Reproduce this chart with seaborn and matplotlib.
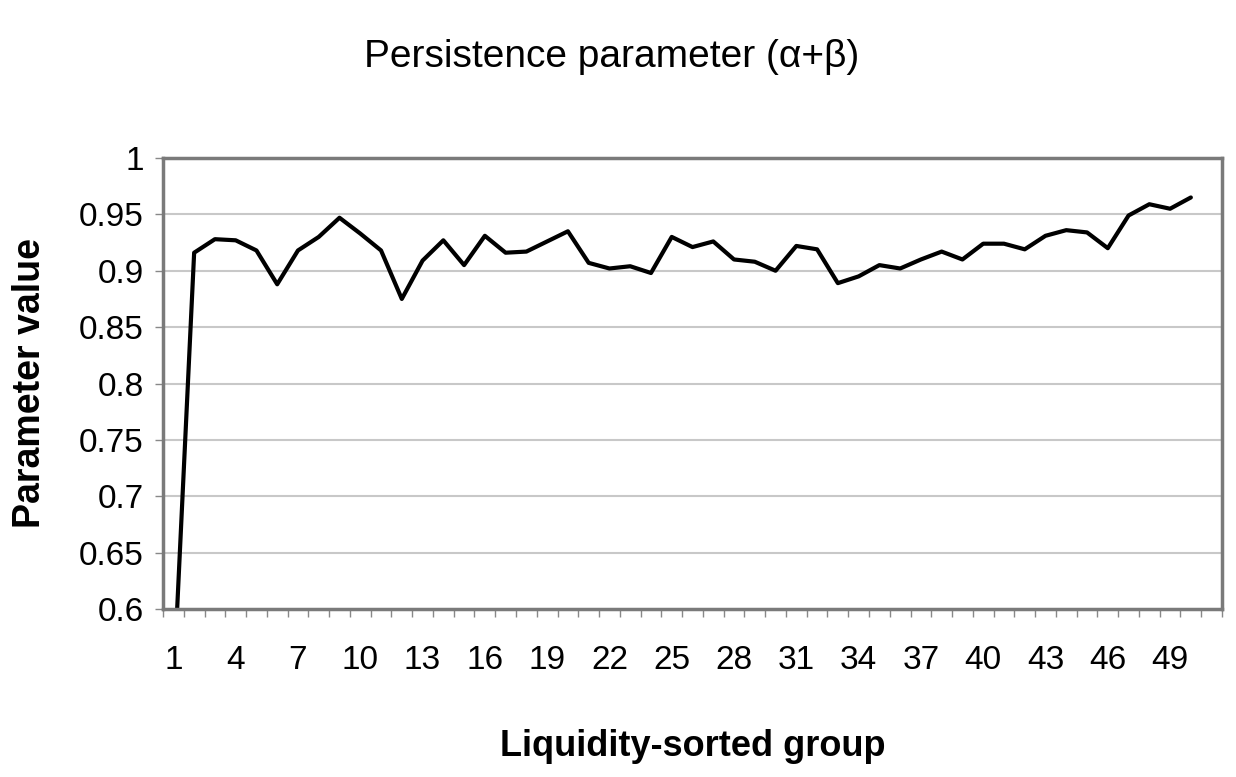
import matplotlib
matplotlib.use("Agg")
import matplotlib.pyplot as plt
import seaborn as sns
import numpy as np
import pandas as pd

groups = list(range(1, 51))
persistence = [0.53, 0.916, 0.928, 0.927, 0.918, 0.888, 0.918, 0.930, 0.947, 0.933,
               0.918, 0.875, 0.909, 0.927, 0.905, 0.931, 0.916, 0.917, 0.926, 0.935,
               0.907, 0.902, 0.904, 0.898, 0.930, 0.921, 0.926, 0.910, 0.908, 0.900,
               0.922, 0.919, 0.889, 0.895, 0.905, 0.902, 0.910, 0.917, 0.910, 0.924,
               0.924, 0.919, 0.931, 0.936, 0.934, 0.920, 0.949, 0.959, 0.955, 0.965]
y_ticks = [0.6, 0.65, 0.7, 0.75, 0.8, 0.85, 0.9, 0.95, 1.0]
y_tick_labels = ["0.6", "0.65", "0.7", "0.75", "0.8", "0.85", "0.9", "0.95", "1"]
x_tick_labels = list(range(1, 50, 3))

sns.set_theme(style="white")
fam = ["Liberation Sans", "DejaVu Sans"]
plt.rcParams["font.family"] = fam
plt.rcParams["text.color"] = "black"
plt.rcParams["axes.labelcolor"] = "black"
plt.rcParams["xtick.labelcolor"] = "black"
plt.rcParams["ytick.labelcolor"] = "black"

fig = plt.figure(figsize=(12.36, 7.77), dpi=100)
ax = fig.add_axes([163/1236, 1 - 609/777, (1222-163)/1236, (609-158)/777])

df = pd.DataFrame({"group": groups, "value": persistence})
sns.lineplot(data=df, x="group", y="value", ax=ax, color="black", linewidth=3)

ax.set_xlim(0.5, 51.5)
ax.set_ylim(0.6, 1.0)
ax.set_yticks(y_ticks)
ax.set_yticklabels(y_tick_labels)
ax.set_xticks(x_tick_labels)
ax.set_xticklabels([str(v) for v in x_tick_labels])
ax.set_xticks(np.arange(0.5, 51.6, 1.0), minor=True)
ax.tick_params(axis="x", which="major", length=0, pad=26, labelsize=24)
ax.tick_params(axis="x", which="minor", length=6, width=1, color="#888888", direction="out", bottom=True)
ax.tick_params(axis="y", which="major", length=6, width=1, color="#888888", left=True, pad=8, labelsize=24)

for v in y_ticks[1:-1]:
    ax.axhline(v, color="#c8c8c8", linewidth=1.5, zorder=0)

for side, s in ax.spines.items():
    s.set_color("#7a7a7a")
    s.set_linewidth(2.5)

ax.set_xlabel("Liquidity-sorted group", fontsize=26, fontweight="bold", labelpad=38)
ax.set_ylabel("Parameter value", fontsize=27, fontweight="bold")
ax.yaxis.set_label_coords((48 - 163) / 1059, 0.5)
fig.text(0.495, 1 - 57/777, "Persistence parameter (α+β)", ha="center", va="center",
         fontsize=28)

fig.savefig("out.png", dpi=100, facecolor="white")
